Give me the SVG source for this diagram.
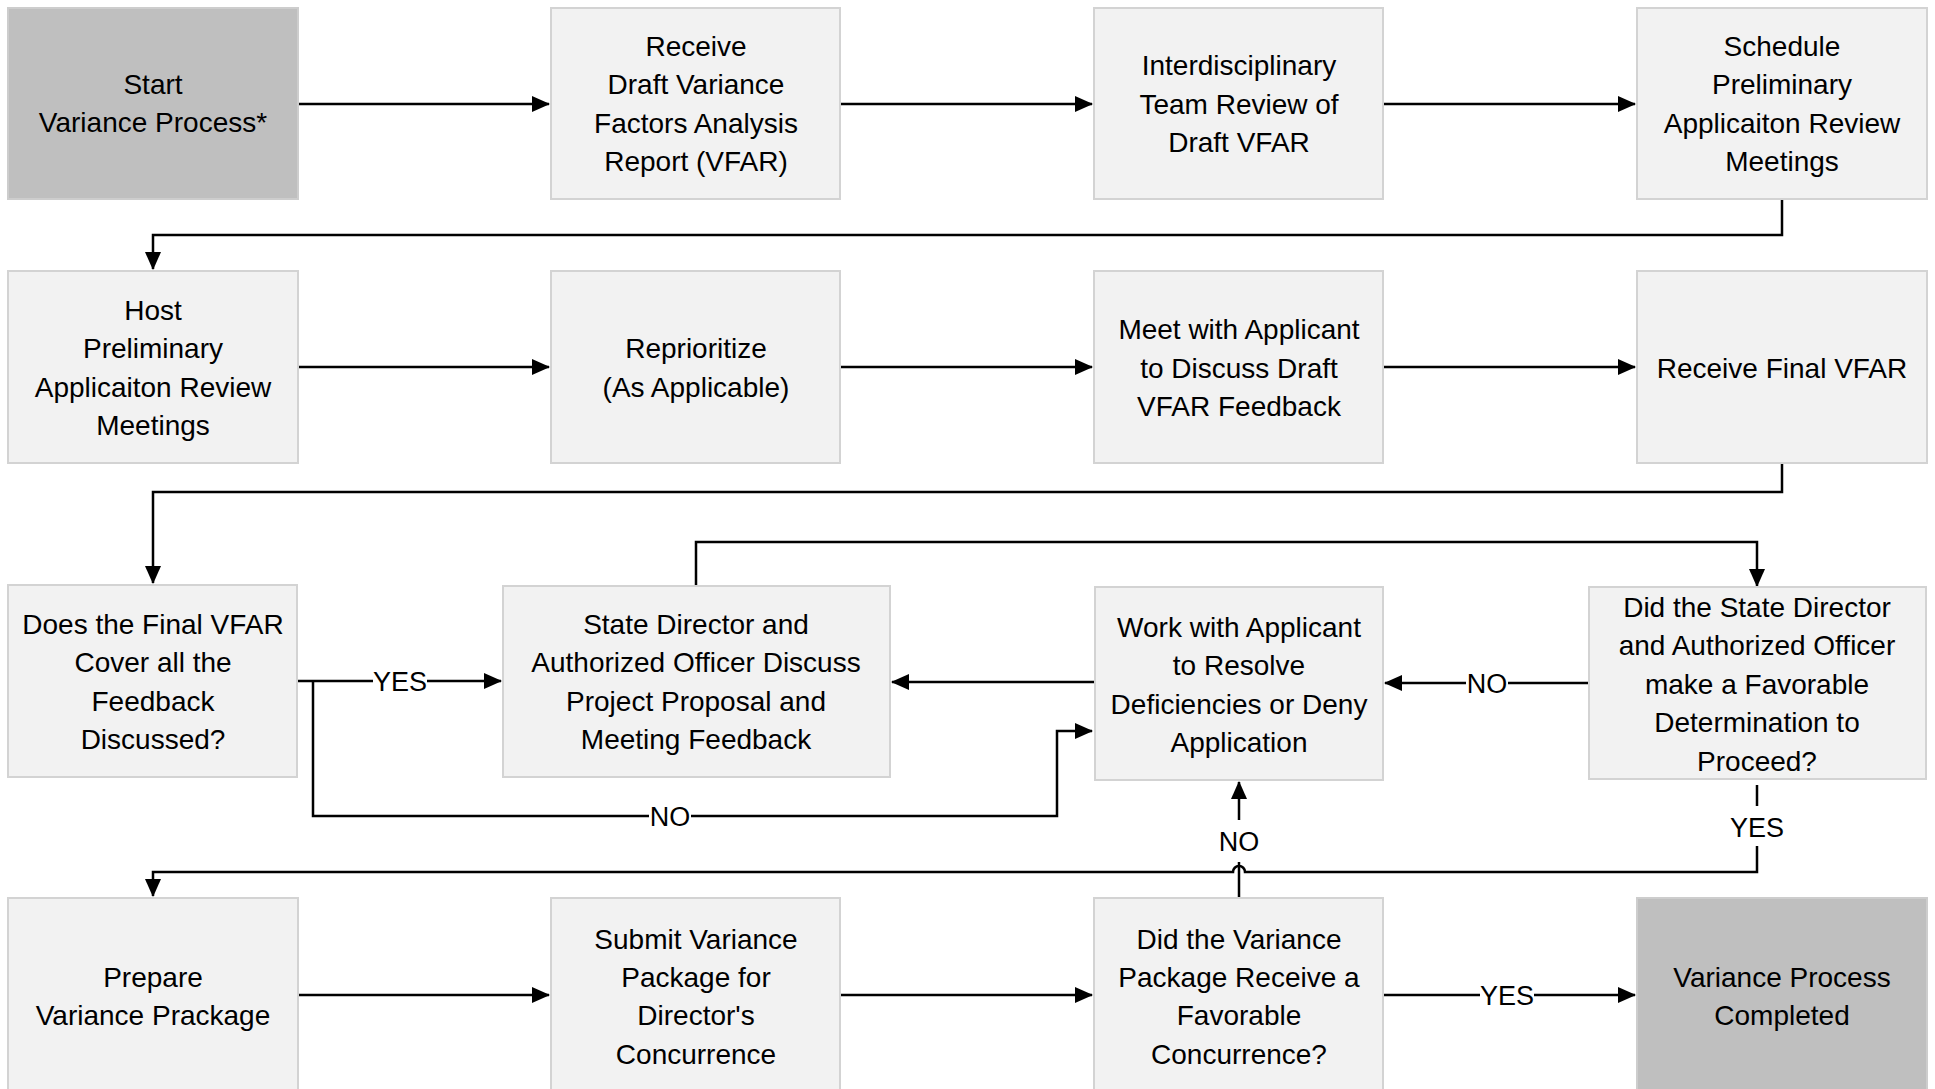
<svg xmlns="http://www.w3.org/2000/svg" width="1935" height="1089" viewBox="0 0 1935 1089">
<defs>
<marker id="ah" markerUnits="userSpaceOnUse" markerWidth="18" markerHeight="16" refX="17" refY="8" orient="auto">
<path d="M0,0 L18,8 L0,16 z" fill="#000"/>
</marker>
<style>
.box{fill:#f2f2f2;stroke:#d3d3d3;stroke-width:2}
.dark{fill:#bfbfbf;stroke:#cdcdcd;stroke-width:2}
.t{font-family:"Liberation Sans",Arial,sans-serif;font-size:28px;fill:#000;text-anchor:middle}
.c{fill:none;stroke:#000;stroke-width:2.5}
.a{marker-end:url(#ah)}
.lb{fill:#fff}
.lt{font-family:"Liberation Sans",Arial,sans-serif;font-size:27px;fill:#000;text-anchor:middle}
</style>
</defs>
<rect width="1935" height="1089" fill="#fff"/>

<g id="connectors">
<path class="c a" d="M298,104 H549"/>
<path class="c a" d="M840,104 H1092"/>
<path class="c a" d="M1383,104 H1635"/>
<path class="c a" d="M1782,199 V235 H153 V269"/>
<path class="c a" d="M298,367 H549"/>
<path class="c a" d="M840,367 H1092"/>
<path class="c a" d="M1383,367 H1635"/>
<path class="c a" d="M1782,463 V492 H153 V583"/>
<path class="c a" d="M297,681 H501"/>
<path class="c a" d="M313,681 V816 H1057 V731 H1092"/>
<path class="c a" d="M1094,682 H892"/>
<path class="c a" d="M1589,683 H1385"/>
<path class="c a" d="M696,586 V542 H1757 V586"/>
<path class="c a" d="M1757,785 V872 H1245 A6,6 0 0 0 1233,872 H153 V896"/>
<path class="c a" d="M1239,898 V782"/>
<path class="c a" d="M298,995 H549"/>
<path class="c a" d="M840,995 H1092"/>
<path class="c a" d="M1383,995 H1635"/>
<rect class="lb" x="373" y="665" width="54" height="32"/>
<text class="lt" x="400" y="691">YES</text>
<rect class="lb" x="649" y="800" width="42" height="32"/>
<text class="lt" x="670" y="826">NO</text>
<rect class="lb" x="1466" y="667" width="42" height="32"/>
<text class="lt" x="1487" y="693">NO</text>
<rect class="lb" x="1734" y="806" width="46" height="40"/>
<text class="lt" x="1757" y="837">YES</text>
<rect class="lb" x="1219" y="820" width="40" height="42"/>
<text class="lt" x="1239" y="851">NO</text>
<rect class="lb" x="1480" y="979" width="54" height="32"/>
<text class="lt" x="1507" y="1005">YES</text>
</g>

<g id="n-start">
<rect class="dark" x="8" y="8" width="290" height="191"/>
<text class="t" x="153" y="94">Start</text>
<text class="t" x="153" y="132">Variance Process*</text>
</g>
<g id="n-receive-draft">
<rect class="box" x="551" y="8" width="289" height="191"/>
<text class="t" x="696" y="56">Receive</text>
<text class="t" x="696" y="94">Draft Variance</text>
<text class="t" x="696" y="133">Factors Analysis</text>
<text class="t" x="696" y="171">Report (VFAR)</text>
</g>
<g id="n-interdisciplinary">
<rect class="box" x="1094" y="8" width="289" height="191"/>
<text class="t" x="1239" y="75">Interdisciplinary</text>
<text class="t" x="1239" y="114">Team Review of</text>
<text class="t" x="1239" y="152">Draft VFAR</text>
</g>
<g id="n-schedule">
<rect class="box" x="1637" y="8" width="290" height="191"/>
<text class="t" x="1782" y="56">Schedule</text>
<text class="t" x="1782" y="94">Preliminary</text>
<text class="t" x="1782" y="133">Applicaiton Review</text>
<text class="t" x="1782" y="171">Meetings</text>
</g>

<g id="n-host">
<rect class="box" x="8" y="271" width="290" height="192"/>
<text class="t" x="153" y="320">Host</text>
<text class="t" x="153" y="358">Preliminary</text>
<text class="t" x="153" y="397">Applicaiton Review</text>
<text class="t" x="153" y="435">Meetings</text>
</g>
<g id="n-reprioritize">
<rect class="box" x="551" y="271" width="289" height="192"/>
<text class="t" x="696" y="358">Reprioritize</text>
<text class="t" x="696" y="397">(As Applicable)</text>
</g>
<g id="n-meet">
<rect class="box" x="1094" y="271" width="289" height="192"/>
<text class="t" x="1239" y="339">Meet with Applicant</text>
<text class="t" x="1239" y="378">to Discuss Draft</text>
<text class="t" x="1239" y="416">VFAR Feedback</text>
</g>
<g id="n-receive-final">
<rect class="box" x="1637" y="271" width="290" height="192"/>
<text class="t" x="1782" y="378">Receive Final VFAR</text>
</g>

<g id="n-does">
<rect class="box" x="8" y="585" width="289" height="192"/>
<text class="t" x="153" y="634">Does the Final VFAR</text>
<text class="t" x="153" y="672">Cover all the</text>
<text class="t" x="153" y="711">Feedback</text>
<text class="t" x="153" y="749">Discussed?</text>
</g>
<g id="n-state-director">
<rect class="box" x="503" y="586" width="387" height="191"/>
<text class="t" x="696" y="634">State Director and</text>
<text class="t" x="696" y="672">Authorized Officer Discuss</text>
<text class="t" x="696" y="711">Project Proposal and</text>
<text class="t" x="696" y="749">Meeting Feedback</text>
</g>
<g id="n-work">
<rect class="box" x="1095" y="587" width="288" height="193"/>
<text class="t" x="1239" y="637">Work with Applicant</text>
<text class="t" x="1239" y="675">to Resolve</text>
<text class="t" x="1239" y="714">Deficiencies or Deny</text>
<text class="t" x="1239" y="752">Application</text>
</g>
<g id="n-did-sd">
<rect class="box" x="1589" y="587" width="337" height="192"/>
<text class="t" x="1757" y="617">Did the State Director</text>
<text class="t" x="1757" y="655">and Authorized Officer</text>
<text class="t" x="1757" y="694">make a Favorable</text>
<text class="t" x="1757" y="732">Determination to</text>
<text class="t" x="1757" y="771">Proceed?</text>
</g>

<g id="n-prepare">
<rect class="box" x="8" y="898" width="290" height="200"/>
<text class="t" x="153" y="987">Prepare</text>
<text class="t" x="153" y="1025">Variance Prackage</text>
</g>
<g id="n-submit">
<rect class="box" x="551" y="898" width="289" height="200"/>
<text class="t" x="696" y="949">Submit Variance</text>
<text class="t" x="696" y="987">Package for</text>
<text class="t" x="696" y="1025">Director's</text>
<text class="t" x="696" y="1064">Concurrence</text>
</g>
<g id="n-did-variance">
<rect class="box" x="1094" y="898" width="289" height="200"/>
<text class="t" x="1239" y="949">Did the Variance</text>
<text class="t" x="1239" y="987">Package Receive a</text>
<text class="t" x="1239" y="1025">Favorable</text>
<text class="t" x="1239" y="1064">Concurrence?</text>
</g>
<g id="n-completed">
<rect class="dark" x="1637" y="898" width="290" height="200"/>
<text class="t" x="1782" y="987">Variance Process</text>
<text class="t" x="1782" y="1025">Completed</text>
</g>
</svg>
